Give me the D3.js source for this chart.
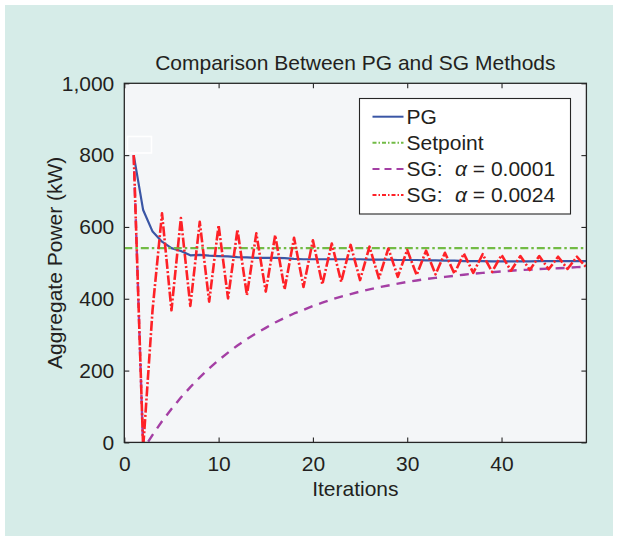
<!DOCTYPE html>
<html>
<head>
<meta charset="utf-8">
<script src="https://cdn.jsdelivr.net/npm/d3@7"></script>
<style>
  html, body { margin: 0; padding: 0; background: #ffffff; }
  svg { display: block; }
  text { font-family: "Liberation Sans", Arial, Helvetica, sans-serif; fill: #231f20; }
</style>
</head>
<body>
<svg id="chart" width="617" height="540"></svg>
<script>
// ---------------- data ----------------
const iterations = [1,2,3,4,5,6,7,8,9,10,11,12,13,14,15,16,17,18,19,20,21,22,23,24,25,
                    26,27,28,29,30,31,32,33,34,35,36,37,38,39,40,41,42,43,44,45,46,47,48,49];
const pgValues = [800,647,587,559,541,533,521,522,520,519,518,516,515,514,514,514,513,511,510,510,
                  510,510,510,510,510,509,509,509,508,508,508,507,507,506,506,505,505,505,504,504,
                  504,504,504,505,505,505,505,505,505];
const setpointX = [0, 49];
const setpointValues = [541, 541];
const sgSlowValues = [800,-20,21,59,93,125,154,181,206,229,250,270,288,304,319,334,347,359,369,380,
                      389,398,406,413,420,426,432,437,442,447,451,455,458,461,464,467,470,472,474,476,
                      478,480,481,483,484,485,486,488,489];
const sgFastValues = [800,-15,370,638,368,625,380,614,392,605,401,593,410,582,420,577,426,570,433,563,
                      440,554,447,550,452,545,457,540,461,536,466,534,468,528,470,526,472,524,475,522,
                      478,519,480,519,482,517,483,517,487];
const xTicks = [0,10,20,30,40];
const yTicks = [0,200,400,600,800,1000];
const legendLabels = ["PG", "Setpoint", "SG:", "SG:"];
const legendAlphas = [null, null, "0.0001", "0.0024"];

// ---------------- layout ----------------
const svg = d3.select("#chart");
const plot = {left: 124.3, top: 83.3, right: 586.4, bottom: 442.4};
const FS = 21;

svg.append("rect").attr("x", 5).attr("y", 5).attr("width", 608).attr("height", 531)
   .attr("fill", "#d6ece8");

const x = d3.scaleLinear().domain([0, 49]).range([plot.left, plot.right]);
const y = d3.scaleLinear().domain([0, 1000]).range([plot.bottom, plot.top]);

svg.append("rect")
  .attr("x", plot.left).attr("y", plot.top)
  .attr("width", plot.right - plot.left).attr("height", plot.bottom - plot.top)
  .attr("fill", "#f4f6f8");

const defs = svg.append("defs");
defs.append("clipPath").attr("id", "plotClip").append("rect")
  .attr("x", plot.left).attr("y", plot.top)
  .attr("width", plot.right - plot.left).attr("height", plot.bottom - plot.top);

const g = svg.append("g").attr("clip-path", "url(#plotClip)");

const line = d3.line().x(d => x(d[0])).y(d => y(d[1]));

const series = [
  {id: "pg", xs: iterations, ys: pgValues, color: "#3a56a5", width: 2.2, dash: null},
  {id: "setpoint", xs: setpointX, ys: setpointValues, color: "#72bb45", width: 2.4, dash: "8,3,2.5,3"},
  {id: "sgSlow", xs: iterations, ys: sgSlowValues, color: "#a43fa4", width: 2.4, dash: "9,7"},
  {id: "sgFast", xs: iterations, ys: sgFastValues, color: "#fe2127", width: 2.6, dash: "10,2.2,2,2.2"}
];

series.forEach(s => {
  g.append("path")
    .datum(s.xs.map((xv, i) => [xv, s.ys[i]]))
    .attr("d", line)
    .attr("fill", "none")
    .attr("stroke", s.color)
    .attr("stroke-width", s.width)
    .attr("stroke-dasharray", s.dash)
    .attr("stroke-linejoin", "round");
});

// small white box near the start
svg.append("rect").attr("x", 127.5).attr("y", 136.5).attr("width", 24).attr("height", 16.5)
   .attr("fill", "none").attr("stroke", "#ffffff").attr("stroke-width", 1.6);

// ---------------- axes ----------------
const axisColor = "#262626";
function styleAxis(sel) {
  sel.select(".domain").remove();
  sel.selectAll(".tick line").attr("stroke", axisColor).attr("stroke-width", 1.1);
  sel.selectAll(".tick text").style("font-size", FS + "px").attr("fill", "#231f20");
}

svg.append("g").attr("transform", `translate(0,${plot.bottom})`)
  .call(d3.axisBottom(x).tickValues(xTicks).tickSize(-5).tickPadding(14))
  .call(styleAxis);
svg.append("g").attr("transform", `translate(0,${plot.top})`)
  .call(d3.axisTop(x).tickValues(xTicks).tickSize(-5).tickFormat(""))
  .call(styleAxis);
svg.append("g").attr("transform", `translate(${plot.left},0)`)
  .call(d3.axisLeft(y).tickValues(yTicks).tickSize(-5).tickPadding(10).tickFormat(d3.format(",")))
  .call(styleAxis);
svg.append("g").attr("transform", `translate(${plot.right},0)`)
  .call(d3.axisRight(y).tickValues(yTicks).tickSize(-5).tickFormat(""))
  .call(styleAxis);

svg.append("rect")
  .attr("x", plot.left).attr("y", plot.top)
  .attr("width", plot.right - plot.left).attr("height", plot.bottom - plot.top)
  .attr("fill", "none").attr("stroke", axisColor).attr("stroke-width", 1.3);

// ---------------- titles ----------------
svg.append("text").attr("x", (plot.left + plot.right) / 2).attr("y", 70)
  .attr("text-anchor", "middle").style("font-size", FS + "px")
  .text("Comparison Between PG and SG Methods");
svg.append("text").attr("x", (plot.left + plot.right) / 2).attr("y", 496)
  .attr("text-anchor", "middle").style("font-size", FS + "px")
  .text("Iterations");
svg.append("text")
  .attr("transform", `translate(62,${(plot.top + plot.bottom) / 2}) rotate(-90)`)
  .attr("text-anchor", "middle").style("font-size", FS + "px")
  .text("Aggregate Power (kW)");

// ---------------- legend ----------------
const leg = svg.append("g");
leg.append("rect").attr("x", 359.5).attr("y", 98.5).attr("width", 211).attr("height", 115.5)
  .attr("fill", "#ffffff").attr("stroke", axisColor).attr("stroke-width", 1.1);
const legendDash = [null, "4,2,1.5,2", "7,5", "4,2,1.5,2"];
series.forEach((s, i) => {
  const cy = 116.7 + i * 26.1;
  leg.append("line").attr("x1", 372.5).attr("x2", 403.5).attr("y1", cy).attr("y2", cy)
    .attr("stroke", s.color).attr("stroke-width", 2)
    .attr("stroke-dasharray", legendDash[i]);
  const t = leg.append("text").attr("x", 406.5).attr("y", cy + 7.4).style("font-size", FS + "px");
  t.append("tspan").text(legendLabels[i]);
  if (legendAlphas[i]) {
    t.append("tspan").attr("x", 455).style("font-style", "italic").text("α");
    t.append("tspan").text(" = " + legendAlphas[i]);
  }
});
</script>
</body>
</html>
